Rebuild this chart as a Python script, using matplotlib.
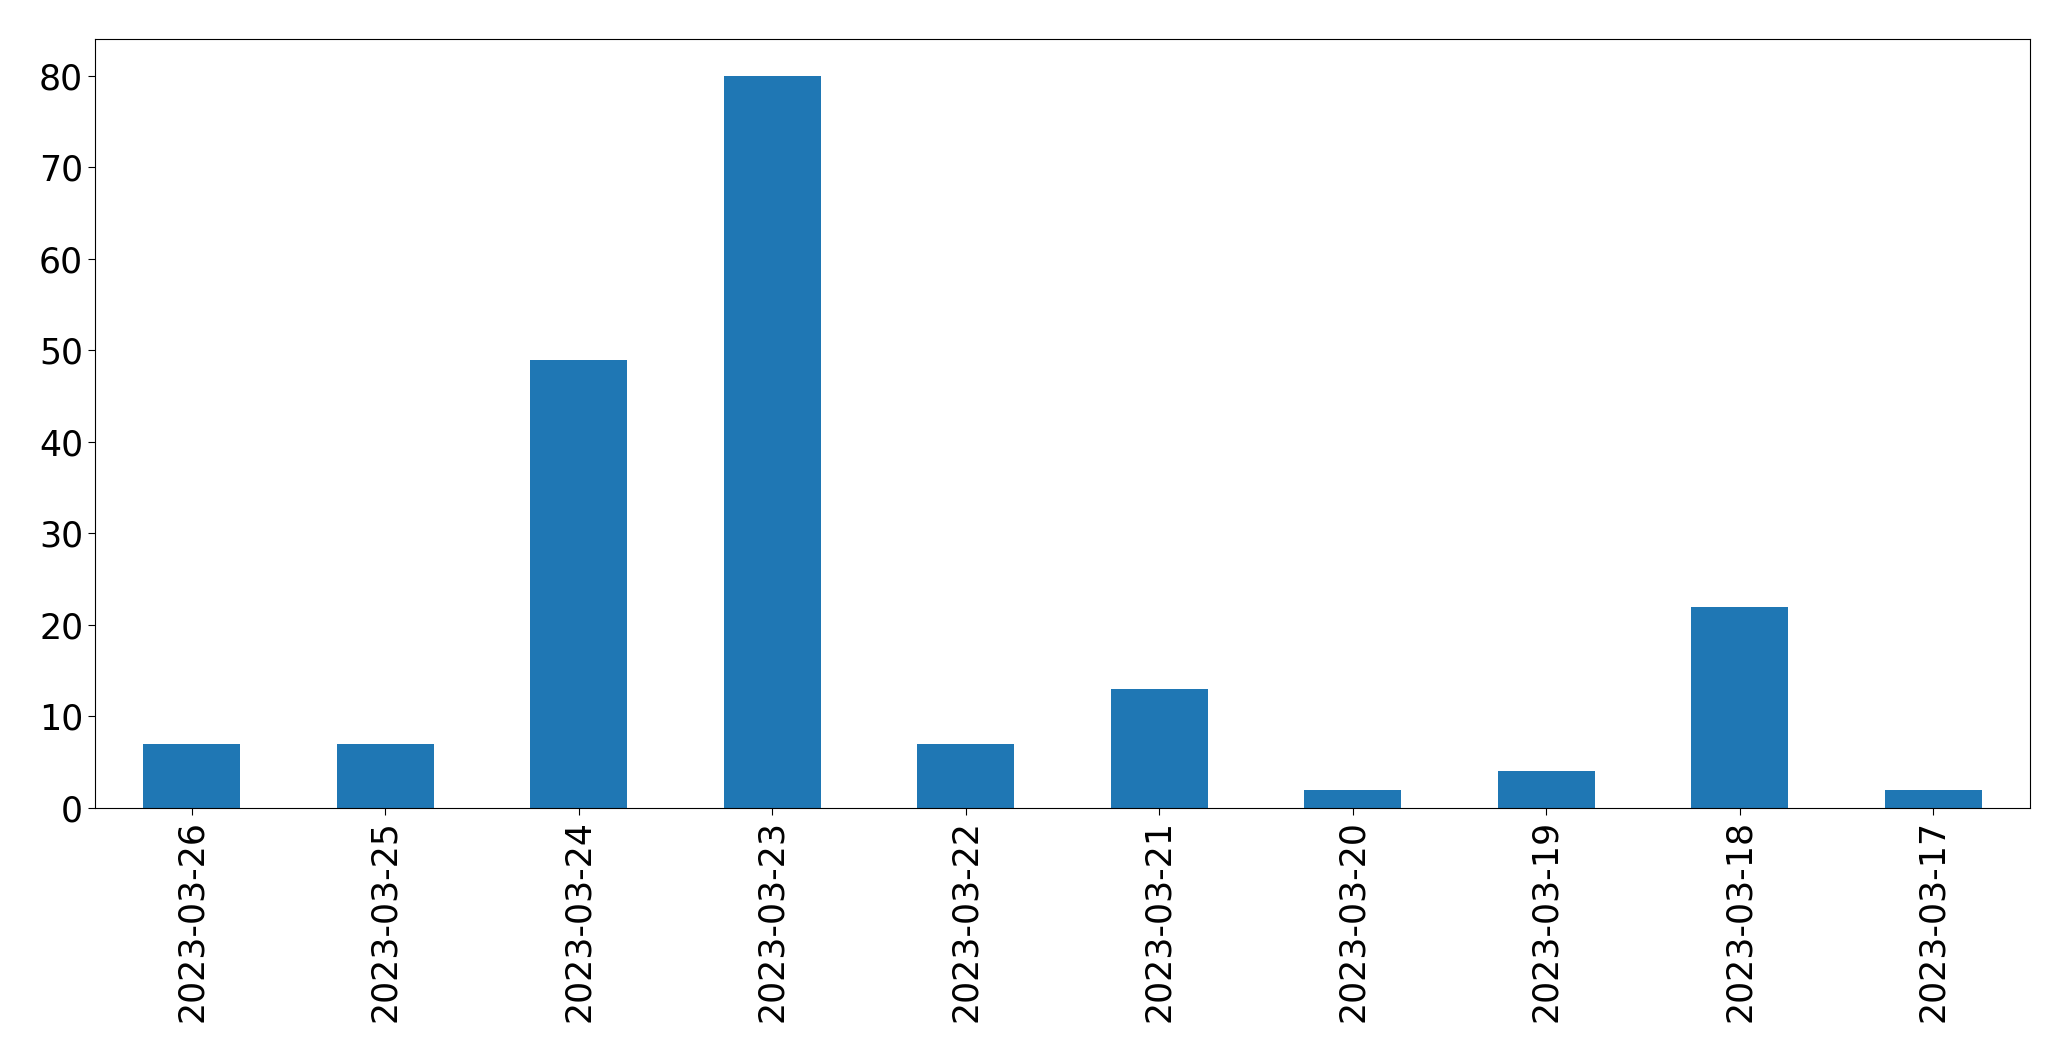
import matplotlib
matplotlib.use("Agg")
import matplotlib.pyplot as plt
import numpy as np

dates = ["2023-03-26", "2023-03-25", "2023-03-24", "2023-03-23", "2023-03-22",
         "2023-03-21", "2023-03-20", "2023-03-19", "2023-03-18", "2023-03-17"]
counts = [7, 7, 49, 80, 7, 13, 2, 4, 22, 2]

W, H = 2071, 1061
fig = plt.figure(figsize=(W / 100, H / 100), dpi=100)
ax = fig.add_axes([95 / W, (H - 808) / H, (2030 - 95) / W, (808 - 39.3) / H])

x = np.arange(len(dates))
ax.bar(x, counts, width=0.5, color="#1f77b4")
ax.set_xlim(-0.5, len(dates) - 0.5)
ax.set_ylim(0, max(counts) * 1.05)
ax.set_xticks(x)
ax.set_xticklabels(dates, rotation=90)
ax.set_yticks(range(0, 81, 10))
ax.tick_params(labelsize=25, length=5)

fig.savefig("out.png", dpi=100)
